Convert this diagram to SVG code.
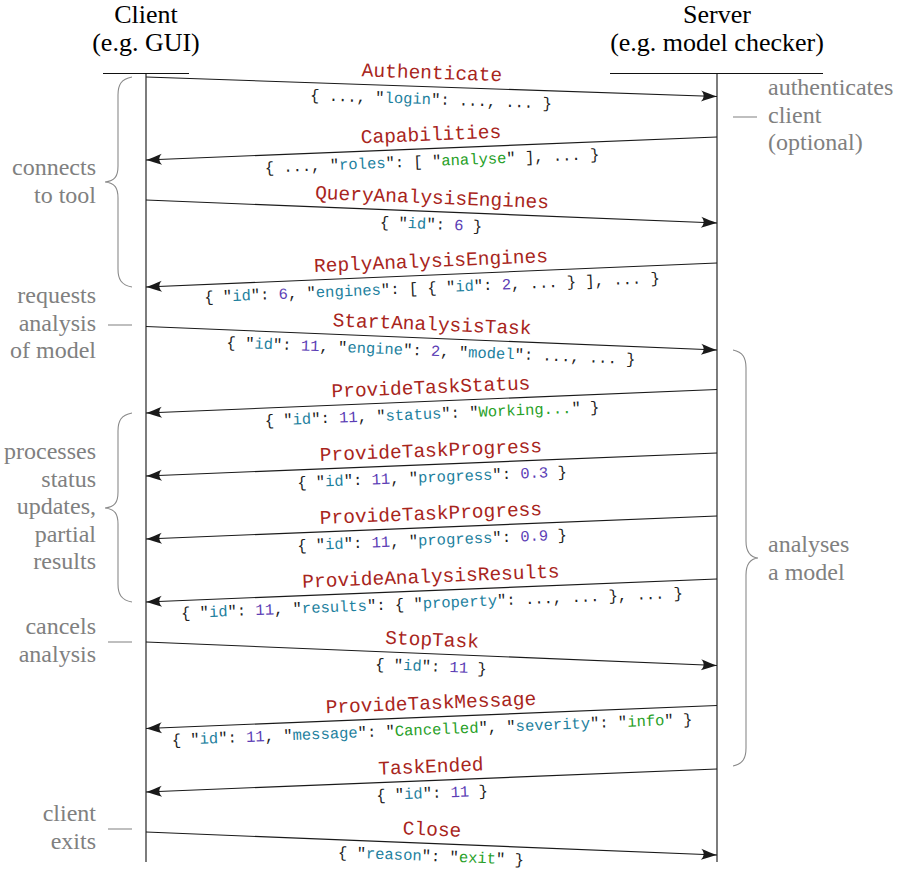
<svg xmlns="http://www.w3.org/2000/svg" width="912" height="869" viewBox="0 0 912 869">
<style>
.hdr{font-family:'Liberation Serif','DejaVu Serif',serif;font-size:26px;fill:#000;text-anchor:middle}
.life{stroke:#111;stroke-width:1.1;fill:none}
.msg{stroke:#1a1a1a;stroke-width:1.1;fill:none;marker-end:url(#ah)}
.lbl{font-family:'Liberation Mono','DejaVu Sans Mono',monospace;font-size:19.5px;fill:#a8251c;text-anchor:middle}
.dat{font-family:'Liberation Mono','DejaVu Sans Mono',monospace;font-size:15.5px;fill:#222;text-anchor:middle;white-space:pre}
.k{fill:#1d7f9e}.n{fill:#5b3db5}.s{fill:#27a027}
.note{font-family:'Liberation Serif','DejaVu Serif',serif;font-size:24px;fill:#808080}
.nl{text-anchor:end}
.brace{stroke:#8a8a8a;stroke-width:1.1;fill:none}
</style>
<defs>
<marker id="ah" viewBox="-17 -7 18 14" refX="0" refY="0" markerWidth="18" markerHeight="14" markerUnits="userSpaceOnUse" orient="auto">
<path d="M0,0 C-5,-1.3 -10,-3.4 -16,-5.5 C-12.5,-2.5 -12.5,2.5 -16,5.5 C-10,3.4 -5,1.3 0,0 Z" fill="#1a1a1a"/>
</marker>
</defs>

<g id="client">
<text class="hdr" x="146" y="23" font-family="Liberation Serif, serif">Client</text>
<text class="hdr" x="146" y="51" font-family="Liberation Serif, serif">(e.g. GUI)</text>
<line class="life" x1="103" y1="73.5" x2="189" y2="73.5"/>
<line class="life" x1="146" y1="73.5" x2="146" y2="862"/>
</g>

<g id="server">
<text class="hdr" x="717" y="23">Server</text>
<text class="hdr" x="717" y="51">(e.g. model checker)</text>
<line class="life" x1="610" y1="73.5" x2="823" y2="73.5"/>
<line class="life" x1="717" y1="73.5" x2="717" y2="862"/>
</g>

<g id="connectors">
<g id="m-authenticate">
<line class="msg" x1="146" y1="77" x2="717" y2="96.5"/>
<g transform="translate(431.5,86.75) rotate(1.956)">
<text class="lbl" x="0" y="-8">Authenticate</text>
<text class="dat" x="0" y="17.5">{ ..., "<tspan class="k">login</tspan>": ..., ... }</text>
</g>
</g>
<g id="m-capabilities">
<line class="msg" x1="717" y1="137" x2="146" y2="160"/>
<g transform="translate(431.5,148.5) rotate(-2.306)">
<text class="lbl" x="0" y="-8">Capabilities</text>
<text class="dat" x="0" y="17.5">{ ..., "<tspan class="k">roles</tspan>": [ "<tspan class="s">analyse</tspan>" ], ... }</text>
</g>
</g>
<g id="m-query">
<line class="msg" x1="146" y1="200" x2="717" y2="223"/>
<g transform="translate(431.5,211.5) rotate(2.306)">
<text class="lbl" x="0" y="-8">QueryAnalysisEngines</text>
<text class="dat" x="0" y="17.5">{ "<tspan class="k">id</tspan>": <tspan class="n">6</tspan> }</text>
</g>
</g>
<g id="m-reply">
<line class="msg" x1="717" y1="263" x2="146" y2="287"/>
<g transform="translate(431.5,275) rotate(-2.406)">
<text class="lbl" x="0" y="-8">ReplyAnalysisEngines</text>
<text class="dat" x="0" y="17.5">{ "<tspan class="k">id</tspan>": <tspan class="n">6</tspan>, "<tspan class="k">engines</tspan>": [ { "<tspan class="k">id</tspan>": <tspan class="n">2</tspan>, ... } ], ... }</text>
</g>
</g>
<g id="m-start">
<line class="msg" x1="146" y1="326.5" x2="717" y2="350"/>
<g transform="translate(431.5,338.25) rotate(2.357)">
<text class="lbl" x="0" y="-8">StartAnalysisTask</text>
<text class="dat" x="0" y="17.5">{ "<tspan class="k">id</tspan>": <tspan class="n">11</tspan>, "<tspan class="k">engine</tspan>": <tspan class="n">2</tspan>, "<tspan class="k">model</tspan>": ..., ... }</text>
</g>
</g>
<g id="m-status">
<line class="msg" x1="717" y1="389.5" x2="146" y2="413"/>
<g transform="translate(431.5,401.25) rotate(-2.357)">
<text class="lbl" x="0" y="-8">ProvideTaskStatus</text>
<text class="dat" x="0" y="17.5">{ "<tspan class="k">id</tspan>": <tspan class="n">11</tspan>, "<tspan class="k">status</tspan>": "<tspan class="s">Working...</tspan>" }</text>
</g>
</g>
<g id="m-progress1">
<line class="msg" x1="717" y1="453" x2="146" y2="476"/>
<g transform="translate(431.5,464.5) rotate(-2.306)">
<text class="lbl" x="0" y="-8">ProvideTaskProgress</text>
<text class="dat" x="0" y="17.5">{ "<tspan class="k">id</tspan>": <tspan class="n">11</tspan>, "<tspan class="k">progress</tspan>": <tspan class="n">0.3</tspan> }</text>
</g>
</g>
<g id="m-progress2">
<line class="msg" x1="717" y1="516" x2="146" y2="539"/>
<g transform="translate(431.5,527.5) rotate(-2.306)">
<text class="lbl" x="0" y="-8">ProvideTaskProgress</text>
<text class="dat" x="0" y="17.5">{ "<tspan class="k">id</tspan>": <tspan class="n">11</tspan>, "<tspan class="k">progress</tspan>": <tspan class="n">0.9</tspan> }</text>
</g>
</g>
<g id="m-results">
<line class="msg" x1="717" y1="579" x2="146" y2="602"/>
<g transform="translate(431.5,590.5) rotate(-2.306)">
<text class="lbl" x="0" y="-8">ProvideAnalysisResults</text>
<text class="dat" x="0" y="17.5">{ "<tspan class="k">id</tspan>": <tspan class="n">11</tspan>, "<tspan class="k">results</tspan>": { "<tspan class="k">property</tspan>": ..., ... }, ... }</text>
</g>
</g>
<g id="m-stop">
<line class="msg" x1="146" y1="642" x2="717" y2="665.5"/>
<g transform="translate(431.5,653.75) rotate(2.357)">
<text class="lbl" x="0" y="-8">StopTask</text>
<text class="dat" x="0" y="17.5">{ "<tspan class="k">id</tspan>": <tspan class="n">11</tspan> }</text>
</g>
</g>
<g id="m-message">
<line class="msg" x1="717" y1="705.5" x2="146" y2="728.5"/>
<g transform="translate(431.5,717) rotate(-2.306)">
<text class="lbl" x="0" y="-8">ProvideTaskMessage</text>
<text class="dat" x="0" y="17.5">{ "<tspan class="k">id</tspan>": <tspan class="n">11</tspan>, "<tspan class="k">message</tspan>": "<tspan class="s">Cancelled</tspan>", "<tspan class="k">severity</tspan>": "<tspan class="s">info</tspan>" }</text>
</g>
</g>
<g id="m-ended">
<line class="msg" x1="717" y1="769" x2="146" y2="792"/>
<g transform="translate(431.5,780.5) rotate(-2.306)">
<text class="lbl" x="0" y="-8">TaskEnded</text>
<text class="dat" x="0" y="17.5">{ "<tspan class="k">id</tspan>": <tspan class="n">11</tspan> }</text>
</g>
</g>
<g id="m-close">
<line class="msg" x1="146" y1="832" x2="717" y2="855"/>
<g transform="translate(431.5,843.5) rotate(2.306)">
<text class="lbl" x="0" y="-8">Close</text>
<text class="dat" x="0" y="17.5">{ "<tspan class="k">reason</tspan>": "<tspan class="s">exit</tspan>" }</text>
</g>
</g>
</g>

<g id="annotations">
<g id="a-connects">
<path class="brace" d="M132,77 C121,79 118,85 118,95 L118,166 C118,176 115,181 105,182 C115,183 118,188 118,198 L118,269 C118,279 121,285 132,287"/>
<text class="note nl" x="96" y="175">connects</text>
<text class="note nl" x="96" y="202.5">to tool</text>
</g>
<g id="a-requests">
<line class="brace" x1="108" y1="325" x2="132" y2="325"/>
<text class="note nl" x="96" y="303">requests</text>
<text class="note nl" x="96" y="330.5">analysis</text>
<text class="note nl" x="96" y="358">of model</text>
</g>
<g id="a-processes">
<path class="brace" d="M132,413 C121,415 118,421 118,431 L118,492 C118,502 115,507 105,508 C115,509 118,514 118,524 L118,584 C118,594 121,600 132,602"/>
<text class="note nl" x="96" y="459">processes</text>
<text class="note nl" x="96" y="486.5">status</text>
<text class="note nl" x="96" y="514">updates,</text>
<text class="note nl" x="96" y="541.5">partial</text>
<text class="note nl" x="96" y="569">results</text>
</g>
<g id="a-cancels">
<line class="brace" x1="108" y1="642" x2="132" y2="642"/>
<text class="note nl" x="96" y="634">cancels</text>
<text class="note nl" x="96" y="661.5">analysis</text>
</g>
<g id="a-exits">
<line class="brace" x1="108" y1="829" x2="132" y2="829"/>
<text class="note nl" x="96" y="821">client</text>
<text class="note nl" x="96" y="848.5">exits</text>
</g>
<g id="a-authenticates">
<line class="brace" x1="733" y1="117" x2="757" y2="117"/>
<text class="note" x="768" y="95">authenticates</text>
<text class="note" x="768" y="122.5">client</text>
<text class="note" x="768" y="150">(optional)</text>
</g>
<g id="a-analyses">
<path class="brace" d="M733,350 C743,352 746,358 746,368 L746,541 C746,551 749,557 758,558 C749,559 746,565 746,575 L746,748 C746,758 743,764 733,766"/>
<text class="note" x="768" y="552">analyses</text>
<text class="note" x="768" y="579.5">a model</text>
</g>
</g>
</svg>
